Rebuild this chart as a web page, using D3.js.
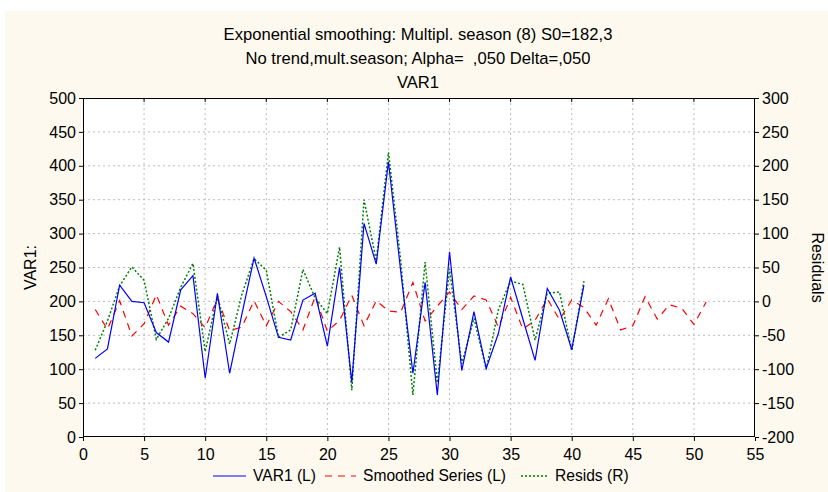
<!DOCTYPE html>
<html><head><meta charset="utf-8">
<script src="https://cdn.jsdelivr.net/npm/d3@7"></script>
<style>
html,body{margin:0;padding:0;background:#fff;}
svg text{font-family:"Liberation Sans",Arial,sans-serif;}
</style></head>
<body><svg id="c" width="828" height="492"></svg>
<script>
const titleLines = ["Exponential smoothing: Multipl. season (8) S0=182,3",
  "No trend,mult.season; Alpha=  ,050 Delta=,050", "VAR1"];
const xTicks = [0,5,10,15,20,25,30,35,40,45,50,55];
const yLeftTicks = [0,50,100,150,200,250,300,350,400,450,500];
const yRightTicks = [-200,-150,-100,-50,0,50,100,150,200,250,300];
const var1 = [116,130,224,200,198,154,140,217,238,87,212,94,181,264,207,147,143,202,212,134,
  250,81,315,255,406,245,94,228,62,273,98,185,101,153,236,174,113,219,187,129,224];
const smoothed = [188,159,201,149,167,210,165,193,182,161,204,157,162,201,164,200,185,158,207,156,
  172,209,164,201,186,184,228,171,193,214,188,208,202,162,206,159,172,204,173,202,191,
  165,204,158,164,207,174,195,190,166,199];
const resids = [-72,-29,23,51,31,-56,-25,21,56,-74,8,-63,10,63,46,-53,-42,47,5,-18,
  80,-131,150,60,220,61,-138,58,-120,48,-92,-25,-100,-12,30,25,-57,12,14,-73,30];
const legendItems = ["VAR1 (L)", "Smoothed Series (L)", "Resids (R)"];

const svg = d3.select("#c");
const W = 828, H = 492;
const m = {l:83, r:73, t:98, b:55};
const pw = W - m.l - m.r, ph = H - m.t - m.b;

svg.append("rect").attr("x",0).attr("y",0).attr("width",W).attr("height",H).attr("fill","#ffffff");
svg.append("rect").attr("x",5).attr("y",11).attr("width",W-5).attr("height",H-11).attr("fill","#fdf9ee");

const x = d3.scaleLinear().domain([0,55]).range([m.l, m.l+pw]);
const yL = d3.scaleLinear().domain([0,500]).range([m.t+ph, m.t]);
const yR = d3.scaleLinear().domain([-200,300]).range([m.t+ph, m.t]);

svg.append("rect").attr("x",m.l).attr("y",m.t).attr("width",pw).attr("height",ph).attr("fill","#fff");

// grid
const g = svg.append("g");
xTicks.slice(1,-1).forEach(t=>{
  g.append("line").attr("x1",x(t)).attr("x2",x(t)).attr("y1",m.t).attr("y2",m.t+ph)
   .attr("stroke","#bdbdbd").attr("stroke-width",1).attr("stroke-dasharray","2,3");
});
yLeftTicks.slice(1,-1).forEach(t=>{
  g.append("line").attr("x1",m.l).attr("x2",m.l+pw).attr("y1",yL(t)).attr("y2",yL(t))
   .attr("stroke","#bdbdbd").attr("stroke-width",1).attr("stroke-dasharray","2,3");
});

// axes
const fs = "16px";
const fmt = d => String(d);
const ax = svg.append("g").attr("transform",`translate(0,${m.t+ph})`)
  .call(d3.axisBottom(x).tickValues(xTicks).tickFormat(fmt).tickSize(4).tickPadding(8));
const ayl = svg.append("g").attr("transform",`translate(${m.l},0)`)
  .call(d3.axisLeft(yL).tickValues(yLeftTicks).tickFormat(fmt).tickSize(4).tickPadding(3));
const ayr = svg.append("g").attr("transform",`translate(${m.l+pw},0)`)
  .call(d3.axisRight(yR).tickValues(yRightTicks).tickFormat(fmt).tickSize(4).tickPadding(3));
[ax,ayl,ayr].forEach(a=>{
  a.selectAll("text").attr("font-size",fs).attr("fill","#000").attr("font-family","Liberation Sans, Arial, sans-serif");
  a.selectAll("line").attr("stroke","#000");
  a.select(".domain").remove();
});
// frame
svg.append("rect").attr("x",m.l+0.5).attr("y",m.t+0.5).attr("width",pw-1).attr("height",ph-1)
  .attr("fill","none").attr("stroke","#000").attr("stroke-width",1);
// top ticks
xTicks.slice(1,-1).forEach(t=>{
  svg.append("line").attr("x1",x(t)).attr("x2",x(t)).attr("y1",m.t).attr("y2",m.t+4).attr("stroke","#000");
});

// lines
svg.append("clipPath").attr("id","pc").append("rect")
  .attr("x",m.l).attr("y",m.t).attr("width",pw).attr("height",ph);
const lg = svg.append("g").attr("clip-path","url(#pc)");
lg.append("path").datum(smoothed)
  .attr("d", d3.line().x((d,i)=>x(i+1)).y(d=>yL(d)))
  .attr("fill","none").attr("stroke","#ff0000").attr("stroke-width",1.2).attr("stroke-dasharray","7,6");
lg.append("path").datum(resids)
  .attr("d", d3.line().x((d,i)=>x(i+1)).y(d=>yR(d)))
  .attr("fill","none").attr("stroke","#008000").attr("stroke-width",1.5).attr("stroke-dasharray","2,2");
lg.append("path").datum(var1)
  .attr("d", d3.line().x((d,i)=>x(i+1)).y(d=>yL(d)))
  .attr("fill","none").attr("stroke","#0000ff").attr("stroke-width",1.2);

// titles
const tb = [40, 64, 88];
titleLines.forEach((t,i)=>{
  svg.append("text").attr("x", m.l + pw/2 - 1).attr("y", tb[i]).attr("text-anchor","middle")
    .attr("font-size","16.6px").attr("fill","#000").style("white-space","pre").text(t);
});
svg.append("text").attr("transform",`translate(36,${m.t+ph/2}) rotate(-90)`)
  .attr("text-anchor","middle").attr("font-size","16px").text("VAR1:");
svg.append("text").attr("transform",`translate(812,${m.t+ph/2}) rotate(90)`)
  .attr("text-anchor","middle").attr("font-size","16px").text("Residuals");

// legend
const ly = 476;
const leg = [
  {x0:213, x1:246, tx:253, color:"#0000ff", dash:null, w:1.2},
  {x0:325, x1:356, tx:363, color:"#ff0000", dash:"7,6", w:1.2},
  {x0:521, x1:549, tx:555, color:"#008000", dash:"2,2", w:1.5}
];
leg.forEach((L,i)=>{
  svg.append("line").attr("x1",L.x0).attr("x2",L.x1).attr("y1",ly).attr("y2",ly)
    .attr("stroke",L.color).attr("stroke-width",L.w).attr("stroke-dasharray",L.dash);
  svg.append("text").attr("x",L.tx).attr("y",ly+5).attr("font-size","15.6px").text(legendItems[i]);
});
</script></body></html>
